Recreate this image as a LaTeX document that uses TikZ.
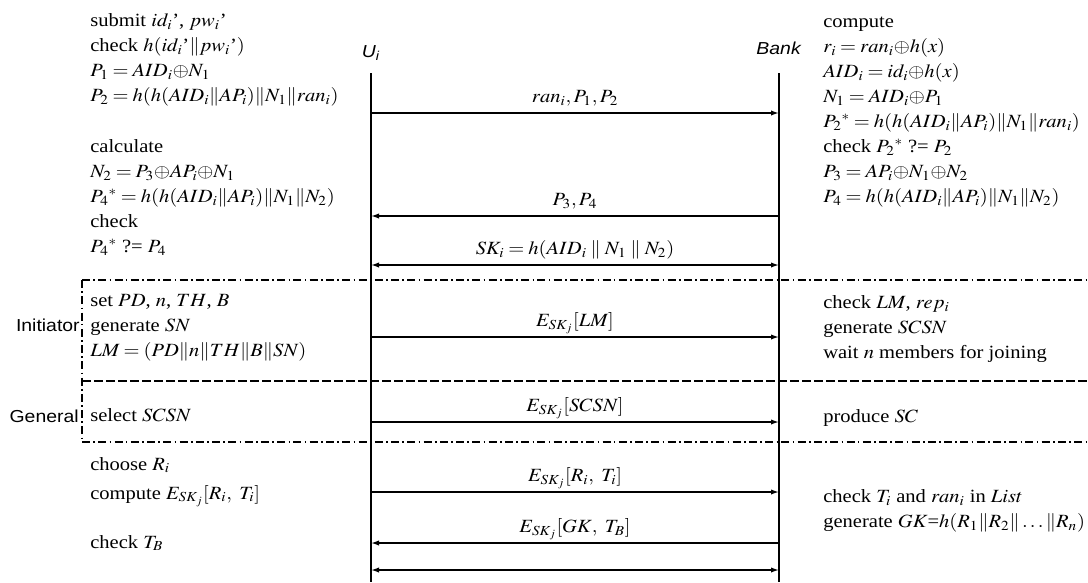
\documentclass[tikz,border=0pt]{standalone}
\usepackage{mathptmx}
\usepackage{fontspec}
\setmainfont{Liberation Serif}
\setsansfont{Liberation Sans}
\usetikzlibrary{arrows.meta}

\newcommand{\xorop}{{\oplus}}
\thickmuskip=3.5mu plus 2mu

\tikzset{
  txt/.style={font=\fontsize{14}{18.75}\selectfont, inner sep=0pt, xscale=1.1},
  blk/.style={txt, align=left, anchor=north west},
  lne/.style={txt, anchor=base west},
  msg/.style={txt, anchor=base, yshift=8pt},
  role/.style={font=\sffamily\fontsize{13}{15}\selectfont, inner sep=0pt, xscale=1.12},
  life/.style={line width=1.6pt},
  arr/.style={line width=1.1pt},
  dotsep/.style={line width=0.9pt, dash pattern=on 6pt off 2.5pt on 1.2pt off 2.5pt},
  dashsep/.style={line width=0.9pt, dash pattern=on 7pt off 2pt}
}

\begin{document}
\begin{tikzpicture}[x=0.75pt,y=-0.75pt,>={Latex[length=6pt,width=4pt]}]
\useasboundingbox (0,0) rectangle (1088,582);

% parties and lifelines
\node[role,anchor=base] (ui) at (371,57) {\textit{U}\textsubscript{\textit{i}}};
\node[role,anchor=base] (bank) at (779,54) {\textit{Bank}};
\coordinate (ux) at (371,0);
\coordinate (bx) at (779,0);
\draw[life] (ux |- 0,73) -- (ux |- 0,582);
\draw[life] (bx |- 0,73) -- (bx |- 0,582);

% phases
\draw[dotsep] (82,280) -- (1088,280);
\draw[dashsep] (82,381) -- (1088,381);
\draw[dotsep] (82,442) -- (1088,442);
\draw[dotsep] (82,280) -- (82,442);
\node[role,anchor=east] (init) at (80,325) {Initiator};
\node[role,anchor=east] (gen) at (79,416) {General};

% user side
\node[blk] (login) at (90,8.5) {\strut submit $id_i$', $pw_i$'\\ check $h(id_i$'$\|pw_i$'$)$\\ $P_1 = AID_i\xorop N_1$\\ $P_2 = h(h(AID_i\|AP_i)\|N_1\|ran_i)$};
\node[blk] (calc) at (90,134.5) {\strut calculate\\ $N_2 = P_3\xorop AP_i\xorop N_1$\\ $P_4{}^* = h(h(AID_i\|AP_i)\|N_1\|N_2)$\\ check\\ $P_4{}^*$ ?= $P_4$};
\node[blk] (setup) at (90,288.5) {\strut set $PD$, $n$, $TH$, $B$\\ generate $SN$\\ $LM = (PD\|n\|TH\|B\|SN)$};
\node[lne] (sel) at (90,421) {select $SCSN$};
\node[lne] (chs) at (90,470) {choose $R_i$};
\node[lne] (enc) at (90,499) {compute $E_{SK_j}[R_i,\ T_i]$};
\node[lne] (chk) at (90,548) {check $T_B$};

% bank side
\node[blk] (verif) at (823,9.5) {\strut compute\\ $r_i = ran_i\xorop h(x)$\\ $AID_i = id_i\xorop h(x)$\\ $N_1 = AID_i\xorop P_1$\\ $P_2{}^* = h(h(AID_i\|AP_i)\|N_1\|ran_i)$\\ check $P_2{}^*$ ?= $P_2$\\ $P_3 = AP_i\xorop N_1\xorop N_2$\\ $P_4 = h(h(AID_i\|AP_i)\|N_1\|N_2)$};
\node[blk] (join) at (823,290.5) {\strut check $LM$, $rep_i$\\ generate $SCSN$\\ wait $n$ members for joining};
\node[lne] (prod) at (823,422) {produce $SC$};
\node[blk] (gk) at (823,484.5) {\strut check $T_i$ and $ran_i$ in $List$\\ generate $GK$=$h(R_1\|R_2\|\ldots\|R_n)$};

% messages
\draw[arr,->] (ux |- 0,113) -- (bx |- 0,113) node[msg,midway] {$ran_i,P_1,P_2$};
\draw[arr,->] (bx |- 0,216) -- (ux |- 0,216) node[msg,midway] {$P_3,P_4$};
\draw[arr,<->] (ux |- 0,265) -- (bx |- 0,265) node[msg,midway] {$SK_i = h(AID_i\parallel N_1\parallel N_2)$};
\draw[arr,->] (ux |- 0,337) -- (bx |- 0,337) node[msg,midway] {$E_{SK_j}[LM]$};
\draw[arr,->] (ux |- 0,422) -- (bx |- 0,422) node[msg,midway] {$E_{SK_j}[SCSN]$};
\draw[arr,->] (ux |- 0,492) -- (bx |- 0,492) node[msg,midway] {$E_{SK_j}[R_i,\ T_i]$};
\draw[arr,->] (bx |- 0,543) -- (ux |- 0,543) node[msg,midway] {$E_{SK_j}[GK,\ T_B]$};
\draw[arr,<->] (ux |- 0,570) -- (bx |- 0,570);
\end{tikzpicture}
\end{document}
